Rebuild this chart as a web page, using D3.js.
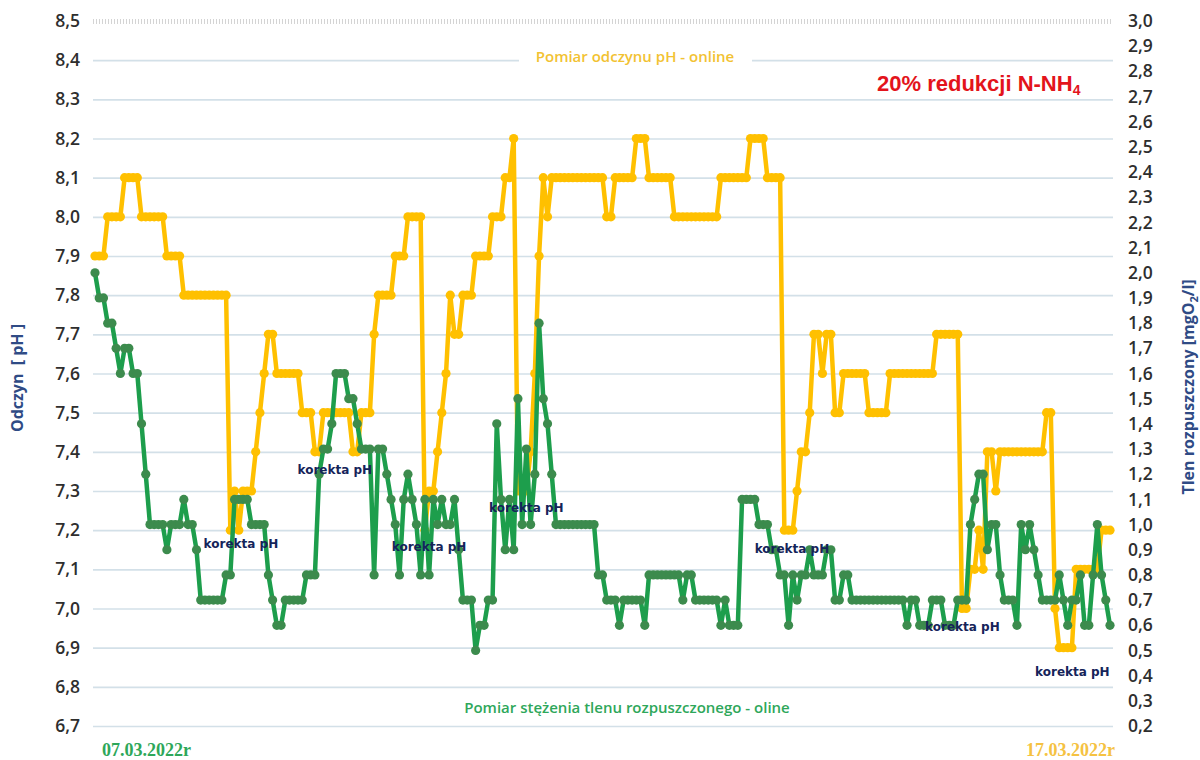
<!DOCTYPE html>
<html>
<head>
<meta charset="utf-8">
<script src="https://cdn.jsdelivr.net/npm/d3@7"></script>
<style>
  body { margin: 0; background: #ffffff; }
  svg { display: block; }
</style>
</head>
<body>
<svg id="chart" width="1200" height="760"></svg>
<script>
// Hourly online readings, 07.03.2022 00:00 – 17.03.2022 00:00 (241 samples)
const dateLabels = ["07.03.2022r", "17.03.2022r"];

const phTicks = [6.7, 6.8, 6.9, 7.0, 7.1, 7.2, 7.3, 7.4, 7.5, 7.6, 7.7, 7.8, 7.9, 8.0, 8.1, 8.2, 8.3, 8.4, 8.5];
const oxygenTicks = [0.2, 0.3, 0.4, 0.5, 0.6, 0.7, 0.8, 0.9, 1.0, 1.1, 1.2, 1.3, 1.4, 1.5, 1.6, 1.7, 1.8, 1.9, 2.0,
                     2.1, 2.2, 2.3, 2.4, 2.5, 2.6, 2.7, 2.8, 2.9, 3.0];

// pH – online measurement
const phSeries = [
  7.9,7.9,7.9,8.0,8.0,8.0,8.0,8.1,8.1,8.1,8.1,8.0,8.0,8.0,8.0,8.0,8.0,7.9,7.9,7.9,7.9,7.8,7.8,7.8,
  7.8,7.8,7.8,7.8,7.8,7.8,7.8,7.8,7.2,7.3,7.2,7.3,7.3,7.3,7.4,7.5,7.6,7.7,7.7,7.6,7.6,7.6,7.6,7.6,
  7.6,7.5,7.5,7.5,7.4,7.4,7.5,7.5,7.5,7.5,7.5,7.5,7.5,7.4,7.4,7.5,7.5,7.5,7.7,7.8,7.8,7.8,7.8,7.9,
  7.9,7.9,8.0,8.0,8.0,8.0,7.2,7.3,7.3,7.4,7.5,7.6,7.8,7.7,7.7,7.8,7.8,7.8,7.9,7.9,7.9,7.9,8.0,8.0,
  8.0,8.1,8.1,8.2,7.3,7.3,7.3,7.4,7.6,7.9,8.1,8.0,8.1,8.1,8.1,8.1,8.1,8.1,8.1,8.1,8.1,8.1,8.1,8.1,
  8.1,8.0,8.0,8.1,8.1,8.1,8.1,8.1,8.2,8.2,8.2,8.1,8.1,8.1,8.1,8.1,8.1,8.0,8.0,8.0,8.0,8.0,8.0,8.0,
  8.0,8.0,8.0,8.0,8.1,8.1,8.1,8.1,8.1,8.1,8.1,8.2,8.2,8.2,8.2,8.1,8.1,8.1,8.1,7.2,7.2,7.2,7.3,7.4,
  7.4,7.5,7.7,7.7,7.6,7.7,7.7,7.5,7.5,7.6,7.6,7.6,7.6,7.6,7.6,7.5,7.5,7.5,7.5,7.5,7.6,7.6,7.6,7.6,
  7.6,7.6,7.6,7.6,7.6,7.6,7.6,7.7,7.7,7.7,7.7,7.7,7.7,7.0,7.0,7.1,7.1,7.2,7.1,7.4,7.4,7.3,7.4,7.4,
  7.4,7.4,7.4,7.4,7.4,7.4,7.4,7.4,7.4,7.5,7.5,7.0,6.9,6.9,6.9,6.9,7.1,7.1,7.1,7.1,7.1,7.1,7.2,7.2,
  7.2
];

// dissolved oxygen – online measurement [mgO2/l]
const oxygenSeries = [
  2.0,1.9,1.9,1.8,1.8,1.7,1.6,1.7,1.7,1.6,1.6,1.4,1.2,1.0,1.0,1.0,1.0,0.9,1.0,1.0,1.0,1.1,1.0,1.0,
  0.9,0.7,0.7,0.7,0.7,0.7,0.7,0.8,0.8,1.1,1.1,1.1,1.1,1.0,1.0,1.0,1.0,0.8,0.7,0.6,0.6,0.7,0.7,0.7,
  0.7,0.7,0.8,0.8,0.8,1.2,1.3,1.3,1.4,1.6,1.6,1.6,1.5,1.5,1.4,1.3,1.3,1.3,0.8,1.3,1.3,1.2,1.1,1.0,
  0.8,1.1,1.2,1.1,1.0,0.8,1.1,0.8,1.1,1.0,1.1,1.0,1.0,1.1,0.9,0.7,0.7,0.7,0.5,0.6,0.6,0.7,0.7,1.4,
  1.1,0.9,1.1,0.9,1.5,1.0,1.3,1.0,1.2,1.8,1.5,1.4,1.2,1.0,1.0,1.0,1.0,1.0,1.0,1.0,1.0,1.0,1.0,0.8,
  0.8,0.7,0.7,0.7,0.6,0.7,0.7,0.7,0.7,0.7,0.6,0.8,0.8,0.8,0.8,0.8,0.8,0.8,0.8,0.7,0.8,0.8,0.7,0.7,
  0.7,0.7,0.7,0.7,0.6,0.7,0.6,0.6,0.6,1.1,1.1,1.1,1.1,1.0,1.0,1.0,0.9,0.9,0.8,0.8,0.6,0.8,0.7,0.8,
  0.8,0.9,0.8,0.8,0.8,0.9,0.9,0.7,0.7,0.8,0.8,0.7,0.7,0.7,0.7,0.7,0.7,0.7,0.7,0.7,0.7,0.7,0.7,0.7,
  0.6,0.7,0.7,0.6,0.6,0.6,0.7,0.7,0.7,0.6,0.6,0.6,0.7,0.7,0.7,1.0,1.1,1.2,1.2,0.9,1.0,1.0,0.8,0.7,
  0.7,0.7,0.6,1.0,0.9,1.0,0.9,0.8,0.7,0.7,0.7,0.7,0.8,0.7,0.6,0.7,0.7,0.8,0.6,0.6,0.8,1.0,0.8,0.7,
  0.6
];

// ---------------------------------------------------------------------------
const svg = d3.select("#chart");
const plotLeft = 93, plotRight = 1113, plotTop = 21, plotBottom = 726;

const x = d3.scaleLinear().domain([0, phSeries.length - 1]).range([95, 1110]);
const yPh = d3.scaleLinear().domain([6.7, 8.5]).range([plotBottom, plotTop]);
const yOx = d3.scaleLinear().domain([0.2, 3.0]).range([plotBottom, plotTop]);
const comma = d => d.toFixed(1).replace(".", ",");

// horizontal grid
const grid = svg.append("g").attr("transform", `translate(${plotLeft},0)`)
  .call(d3.axisRight(yPh).tickValues(phTicks).tickSize(plotRight - plotLeft).tickFormat(""));
grid.select(".domain").remove();
grid.selectAll(".tick line")
  .attr("stroke", d => d === 8.5 ? "#d4d4d4" : "#d3e0e8")
  .attr("stroke-width", d => d === 8.5 ? 5 : 1.6)
  .attr("stroke-dasharray", d => d === 8.5 ? "1,2" : null);

// left axis (pH)
const axL = svg.append("g").attr("transform", `translate(82,0)`)
  .call(d3.axisLeft(yPh).tickValues(phTicks).tickSize(0).tickPadding(2).tickFormat(comma));
axL.select(".domain").remove();
axL.selectAll("text").attr("font-family", "'Open Sans', sans-serif").attr("font-size", 17.5)
  .attr("font-weight", 600).attr("fill", "#2e2e2e");

// right axis (oxygen)
const axR = svg.append("g").attr("transform", `translate(1126,0)`)
  .call(d3.axisRight(yOx).tickValues(oxygenTicks).tickSize(0).tickPadding(2).tickFormat(comma));
axR.select(".domain").remove();
axR.selectAll("text").attr("font-family", "'Open Sans', sans-serif").attr("font-size", 17.5)
  .attr("font-weight", 600).attr("fill", "#2e2e2e");

// axis titles
svg.append("text")
  .attr("transform", "translate(23,378) rotate(-90)")
  .attr("text-anchor", "middle")
  .attr("font-family", "'Open Sans', sans-serif").attr("font-weight", 700).attr("font-size", 16)
  .attr("fill", "#2f4b85").attr("xml:space", "preserve")
  .text("Odczyn  [ pH ]");

const rt = svg.append("text")
  .attr("transform", "translate(1194,387) rotate(-90)")
  .attr("text-anchor", "middle")
  .attr("font-family", "'Open Sans', sans-serif").attr("font-weight", 700).attr("font-size", 16)
  .attr("fill", "#2f4b85");
rt.append("tspan").text("Tlen rozpuszczony [mgO");
rt.append("tspan").attr("font-size", 11).attr("dy", 4).text("2");
rt.append("tspan").attr("dy", -4).text("/l]");

// series label on top (white box interrupts the grid line)
svg.append("rect").attr("x", 519).attr("y", 48).attr("width", 233).attr("height", 22).attr("fill", "#ffffff");
svg.append("text").attr("x", 635).attr("y", 62).attr("text-anchor", "middle")
  .attr("font-family", "'Open Sans', sans-serif").attr("font-weight", 600).attr("font-size", 15)
  .attr("fill", "#f2c232").text("Pomiar odczynu pH - online");

// reduction note
const red = svg.append("text").attr("x", 877).attr("y", 91)
  .attr("font-family", "'Liberation Sans', Arial, sans-serif").attr("font-weight", 700).attr("font-size", 22)
  .attr("fill", "#e3141b");
red.append("tspan").text("20% redukcji N-NH");
red.append("tspan").attr("font-size", 14).attr("dy", 4).text("4");

// lines
const phLine = d3.line().x((d, i) => x(i)).y(d => yPh(d));
const oxLine = d3.line().x((d, i) => x(i)).y(d => yOx(d));

svg.append("path").datum(phSeries).attr("d", phLine)
  .attr("fill", "none").attr("stroke", "#ffc000").attr("stroke-width", 4.5).attr("stroke-linejoin", "round");
svg.append("g").selectAll("circle").data(phSeries).join("circle")
  .attr("cx", (d, i) => x(i)).attr("cy", d => yPh(d)).attr("r", 4.6).attr("fill", "#ffc000");

svg.append("path").datum(oxygenSeries).attr("d", oxLine)
  .attr("fill", "none").attr("stroke", "#1d9e4c").attr("stroke-width", 4.5).attr("stroke-linejoin", "round");
svg.append("g").selectAll("circle").data(oxygenSeries).join("circle")
  .attr("cx", (d, i) => x(i)).attr("cy", d => yOx(d)).attr("r", 4.6).attr("fill", "#3c8b4d");

// pH correction notes: [hour, pH level of baseline]
const corrections = [[34.5, 7.155], [56.7, 7.343], [79, 7.147], [102, 7.246], [164.8, 7.142], [205.1, 6.943], [231.1, 6.828]];
svg.append("g").selectAll("text").data(corrections).join("text")
  .attr("x", d => x(d[0])).attr("y", d => yPh(d[1])).attr("text-anchor", "middle")
  .attr("font-family", "'DejaVu Sans', sans-serif").attr("font-weight", 700).attr("font-size", 12)
  .attr("fill", "#15245a").text("korekta pH");

// oxygen series label at bottom
svg.append("text").attr("x", 627).attr("y", 713).attr("text-anchor", "middle")
  .attr("font-family", "'Open Sans', sans-serif").attr("font-weight", 600).attr("font-size", 15)
  .attr("fill", "#2ea75a").text("Pomiar stężenia tlenu rozpuszczonego - oline");

// period dates
svg.append("text").attr("x", 102).attr("y", 756)
  .attr("font-family", "'Liberation Serif', 'Times New Roman', serif").attr("font-weight", 700).attr("font-size", 18)
  .attr("fill", "#2ea75a").text(dateLabels[0]);
svg.append("text").attr("x", 1115).attr("y", 756).attr("text-anchor", "end")
  .attr("font-family", "'Liberation Serif', 'Times New Roman', serif").attr("font-weight", 700).attr("font-size", 18)
  .attr("fill", "#f5c242").text(dateLabels[1]);
</script>
</body>
</html>
